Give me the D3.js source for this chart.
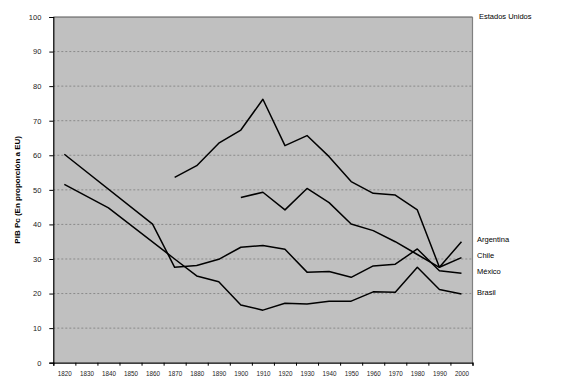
<!DOCTYPE html>
<html>
<head>
<meta charset="utf-8">
<script src="https://cdn.jsdelivr.net/npm/d3@7"></script>
<style>
  html, body { margin: 0; padding: 0; background: #fff; }
  svg { display: block; font-family: "Liberation Sans", Arial, sans-serif; }
</style>
</head>
<body>
<svg id="chart" width="567" height="392"></svg>
<script>
// ---- Data ----
const yearLabels = [1820,1830,1840,1850,1860,1870,1880,1890,1900,1910,1920,1930,1940,1950,1960,1970,1980,1990,2000];
const yTicks = [0,10,20,30,40,50,60,70,80,90,100];

const argentinaYears = [1870,1880,1890,1900,1910,1920,1930,1940,1950,1960,1970,1980,1990,2000];
const argentinaValues = [53.6,57.0,63.5,67.3,76.2,62.8,65.7,59.6,52.4,49.0,48.5,44.2,27.6,35.0];

const chileYears = [1900,1910,1920,1930,1940,1950,1960,1970,1980,1990,2000];
const chileValues = [47.8,49.3,44.2,50.4,46.3,40.1,38.2,35.0,31.3,27.6,30.4];

const mexicoYears = [1820,1860,1870,1880,1890,1900,1910,1920,1930,1940,1950,1960,1970,1980,1990,2000];
const mexicoValues = [60.3,40.1,27.6,28.1,29.9,33.4,33.9,32.8,26.2,26.4,24.7,28.0,28.5,32.9,26.6,25.9];

const brasilYears = [1820,1840,1870,1880,1890,1900,1910,1920,1930,1940,1950,1960,1970,1980,1990,2000];
const brasilValues = [51.6,44.8,30.0,25.1,23.4,16.7,15.2,17.2,17.0,17.8,17.8,20.5,20.4,27.6,21.2,19.9];

const usaLabel = "Estados Unidos";
const usaValue = 100;

const seriesNames = ["Argentina","Chile","México","Brasil"];
const yTitle = "PIB Pc (En proporción a EU)";

// ---- Build series ----
const series = [
  {name: seriesNames[0], years: argentinaYears, values: argentinaValues},
  {name: seriesNames[1], years: chileYears, values: chileValues},
  {name: seriesNames[2], years: mexicoYears, values: mexicoValues},
  {name: seriesNames[3], years: brasilYears, values: brasilValues}
].map(s => ({name: s.name, points: s.years.map((yr, i) => ({year: yr, value: s.values[i]}))}));

// ---- Layout ----
const pLeft = 53.3, pRight = 472.5, pTop = 17, pBottom = 362.7;
const svg = d3.select("#chart");

const x = d3.scaleLinear().domain([1815, 2005]).range([pLeft, pRight]);
const y = d3.scaleLinear().domain([0, 100]).range([pBottom, pTop]);

// plot background
svg.append("rect")
  .attr("x", pLeft).attr("y", pTop)
  .attr("width", pRight - pLeft).attr("height", pBottom - pTop)
  .attr("fill", "#c0c0c0");

// gridlines
svg.append("g").selectAll("line")
  .data(yTicks.filter(v => v > 0 && v < 100))
  .join("line")
  .attr("x1", pLeft).attr("x2", pRight)
  .attr("y1", d => y(d)).attr("y2", d => y(d))
  .attr("stroke", "#8a8a8a")
  .attr("stroke-width", 1)
  .attr("stroke-dasharray", "2,2");

// top and right borders
svg.append("line").attr("x1", pLeft).attr("x2", pRight).attr("y1", pTop).attr("y2", pTop)
  .attr("stroke", "#555").attr("stroke-width", 1.2);
svg.append("line").attr("x1", pRight).attr("x2", pRight).attr("y1", pTop).attr("y2", pBottom)
  .attr("stroke", "#808080").attr("stroke-width", 1.2);

// Y axis
const yAxis = svg.append("g")
  .attr("transform", `translate(${pLeft},0)`)
  .call(d3.axisLeft(y).tickValues(yTicks).tickSize(4).tickPadding(8).tickFormat(d3.format("d")));
yAxis.select(".domain").attr("stroke", "#000").attr("stroke-width", 1.2);
yAxis.selectAll(".tick line").attr("stroke", "#000");
yAxis.selectAll(".tick text").attr("font-size", "7.5px").attr("fill", "#222")
  .attr("font-family", "Liberation Sans, Arial, sans-serif");

// X axis ticks at category boundaries
const boundaries = d3.range(1815, 2006, 10);
const xAxis = svg.append("g")
  .attr("transform", `translate(0,${pBottom})`)
  .call(d3.axisBottom(x).tickValues(boundaries).tickSize(3).tickFormat(""));
xAxis.select(".domain").attr("stroke", "#000").attr("stroke-width", 1.2);
xAxis.selectAll(".tick line").attr("stroke", "#000");

// X labels at category centres
const xLabels = svg.append("g")
  .attr("transform", `translate(0,${pBottom})`)
  .call(d3.axisBottom(x).tickValues(yearLabels).tickSize(0).tickPadding(8).tickFormat(d3.format("d")));
xLabels.select(".domain").remove();
xLabels.selectAll(".tick text").attr("font-size", "7.5px").attr("fill", "#222")
  .attr("font-family", "Liberation Sans, Arial, sans-serif")
  .attr("textLength", 14).attr("lengthAdjust", "spacingAndGlyphs");

// Lines
const line = d3.line().x(d => x(d.year)).y(d => y(d.value));
svg.append("g").selectAll("path")
  .data(series)
  .join("path")
  .attr("d", d => line(d.points))
  .attr("fill", "none")
  .attr("stroke", "#000")
  .attr("stroke-width", 1.5)
  .attr("stroke-linejoin", "round");

// Series labels
const labelX = 477;
svg.append("g").selectAll("text")
  .data(series)
  .join("text")
  .attr("x", labelX)
  .attr("y", d => y(d.points[d.points.length - 1].value) - 2)
  .attr("dy", "0.35em")
  .attr("font-size", "7.5px")
  .attr("fill", "#000")
  .text(d => d.name);

svg.append("text")
  .attr("x", 479)
  .attr("y", y(usaValue) - 1)
  .attr("dy", "0.35em")
  .attr("font-size", "7.5px")
  .attr("fill", "#000")
  .text(usaLabel);

// Y axis title
svg.append("text")
  .attr("transform", `translate(20,${(pTop + pBottom) / 2}) rotate(-90)`)
  .attr("text-anchor", "middle")
  .attr("font-size", "8px")
  .attr("font-weight", "bold")
  .attr("fill", "#000")
  .text(yTitle);
</script>
</body>
</html>
